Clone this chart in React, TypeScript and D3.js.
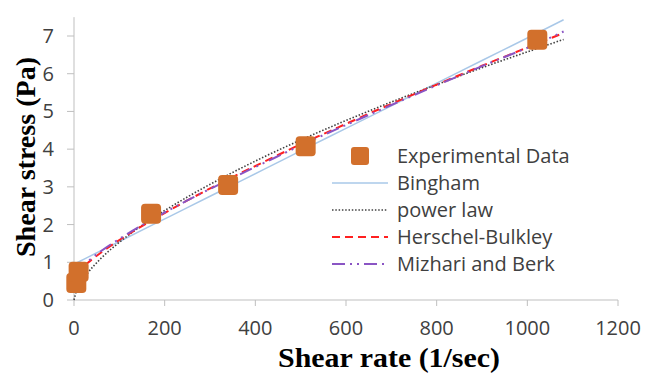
import { useEffect, useRef } from "react";
import * as d3 from "d3";

// experimental points
const expRate = [5.1, 10.2, 170, 340, 511, 1022];
const expStress = [0.45, 0.75, 2.29, 3.05, 4.08, 6.9];

// model curves
const modelRate = [0, 5.1, 10.2, 30, 60, 100, 170, 250, 340, 420, 511, 600, 700, 800, 900, 1022, 1080];
const bingham = [null, 0.98, 1.01, 1.13, 1.31, 1.55, 1.97, 2.45, 2.99, 3.47, 4.02, 4.55, 5.15, 5.75, 6.35, 7.08, 7.43];
const powerLaw = [0, 0.23, 0.36, 0.71, 1.11, 1.53, 2.14, 2.73, 3.32, 3.8, 4.3, 4.76, 5.25, 5.71, 6.16, 6.67, 6.91];
const herschel = [null, 0.69, 0.76, 0.98, 1.26, 1.59, 2.1, 2.64, 3.2, 3.67, 4.19, 4.67, 5.2, 5.71, 6.21, 6.8, 7.08];
const mizrahi = [null, 0.72, 0.8, 1.02, 1.3, 1.62, 2.12, 2.64, 3.18, 3.64, 4.16, 4.64, 5.17, 5.69, 6.2, 6.8, 7.12];

const xTicks = [0, 200, 400, 600, 800, 1000, 1200];
const yTicks = [0, 1, 2, 3, 4, 5, 6, 7];

const legendLabels = ["Experimental Data", "Bingham", "power law", "Herschel-Bulkley", "Mizhari and Berk"];

const ORANGE = "#d2702c";
const AXIS = "#bfbfbf";
const TEXT = "#404040";
const FONT = "'Open Sans', sans-serif";

const series = [
  { values: bingham, color: "#a9c8e8", width: 1.5, dash: null },
  { values: powerLaw, color: "#404040", width: 1.6, dash: "1.5,1.8" },
  { values: herschel, color: "#ff2020", width: 2, dash: "8,5" },
  { values: mizrahi, color: "#8a55c4", width: 2, dash: "13,5,2,5,2,5" },
];

const App = () => {
  const svgRef = useRef(null);

  useEffect(() => {
    const svg = d3.select(svgRef.current);
    svg.selectAll("*").remove();

    const x = d3.scaleLinear().domain([0, 1200]).range([74, 618]);
    const y = d3.scaleLinear().domain([0, 7]).range([300, 36]);

    // axes
    svg.append("line")
      .attr("x1", x(0)).attr("x2", x(1200))
      .attr("y1", y(0)).attr("y2", y(0))
      .attr("stroke", AXIS);
    svg.append("line")
      .attr("x1", x(0)).attr("x2", x(0))
      .attr("y1", y(0)).attr("y2", y(7.5))
      .attr("stroke", AXIS);

    svg.selectAll(".xtick").data(xTicks).enter().append("line")
      .attr("x1", (d) => x(d)).attr("x2", (d) => x(d))
      .attr("y1", y(0)).attr("y2", y(0) + 6)
      .attr("stroke", AXIS);
    svg.selectAll(".xlab").data(xTicks).enter().append("text")
      .attr("x", (d) => x(d)).attr("y", 335)
      .attr("text-anchor", "middle")
      .attr("font-family", FONT).attr("font-size", 20)
      .attr("fill", TEXT)
      .text((d) => d);

    svg.selectAll(".ytick").data(yTicks).enter().append("line")
      .attr("x1", x(0) - 7).attr("x2", x(0))
      .attr("y1", (d) => y(d)).attr("y2", (d) => y(d))
      .attr("stroke", AXIS);
    svg.selectAll(".ylab").data(yTicks).enter().append("text")
      .attr("x", 54).attr("y", (d) => y(d) + 7)
      .attr("text-anchor", "end")
      .attr("font-family", FONT).attr("font-size", 20)
      .attr("fill", TEXT)
      .text((d) => d);

    // titles
    svg.append("text")
      .attr("x", 389).attr("y", 367)
      .attr("text-anchor", "middle")
      .attr("font-family", "'Liberation Serif', serif")
      .attr("font-weight", "bold").attr("font-size", 28)
      .attr("textLength", 222).attr("lengthAdjust", "spacingAndGlyphs")
      .text("Shear rate (1/sec)");
    svg.append("text")
      .attr("transform", "translate(35,157) rotate(-90)")
      .attr("text-anchor", "middle")
      .attr("font-family", "'Liberation Serif', serif")
      .attr("font-weight", "bold").attr("font-size", 28)
      .attr("textLength", 200).attr("lengthAdjust", "spacingAndGlyphs")
      .text("Shear stress (Pa)");

    // model curves
    series.forEach((s) => {
      const pts = modelRate
        .map((r, i) => [r, s.values[i]])
        .filter((p) => p[1] !== null);
      const line = d3.line()
        .x((p) => x(p[0]))
        .y((p) => y(p[1]))
        .curve(d3.curveMonotoneX);
      svg.append("path")
        .attr("d", line(pts))
        .attr("fill", "none")
        .attr("stroke", s.color)
        .attr("stroke-width", s.width)
        .attr("stroke-dasharray", s.dash);
    });

    // experimental markers
    svg.selectAll(".pt").data(expRate).enter().append("rect")
      .attr("x", (d) => x(d) - 10)
      .attr("y", (d, i) => y(expStress[i]) - 10)
      .attr("width", 20).attr("height", 20)
      .attr("rx", 4)
      .attr("fill", ORANGE);

    // legend
    const rowY = (i) => 156 + i * 27;
    svg.append("rect")
      .attr("x", 360 - 9).attr("y", rowY(0) - 9)
      .attr("width", 18).attr("height", 18).attr("rx", 3)
      .attr("fill", ORANGE);
    series.forEach((s, i) => {
      svg.append("line")
        .attr("x1", 332).attr("x2", 388)
        .attr("y1", rowY(i + 1)).attr("y2", rowY(i + 1))
        .attr("stroke", s.color)
        .attr("stroke-width", s.width)
        .attr("stroke-dasharray", s.dash);
    });
    svg.selectAll(".leg").data(legendLabels).enter().append("text")
      .attr("x", 397).attr("y", (d, i) => rowY(i) + 7)
      .attr("font-family", FONT).attr("font-size", 20)
      .attr("fill", TEXT)
      .text((d) => d);
  }, []);

  return (
    <svg
      ref={svgRef}
      width={656}
      height={376}
      style={{ position: "absolute", left: 0, top: 0, background: "#fff" }}
    />
  );
};

export default App;
